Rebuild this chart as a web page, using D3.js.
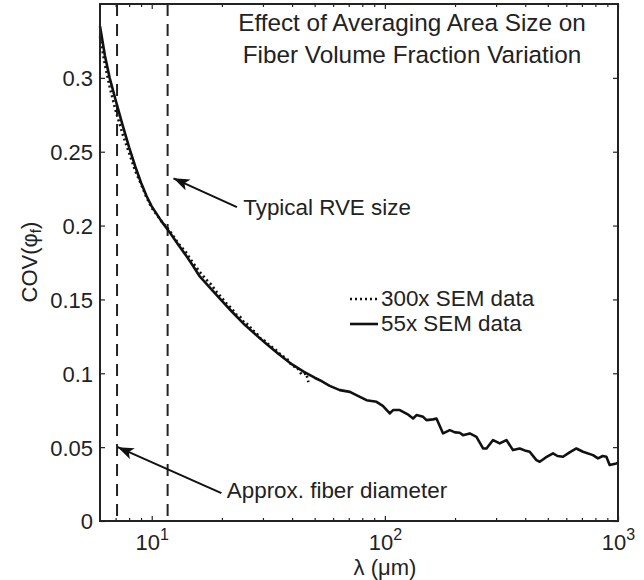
<!DOCTYPE html>
<html>
<head>
<meta charset="utf-8">
<script src="https://cdn.jsdelivr.net/npm/d3@7"></script>
<style>
  body { margin: 0; background: #fff; }
  text { font-family: "Liberation Sans", Arial, sans-serif; fill: #222; }
</style>
</head>
<body>
<svg id="chart"></svg>
<script>
var width = 644, height = 580;
var margin = {top: 4, right: 26, bottom: 59, left: 100};
var plotW = width - margin.left - margin.right,
    plotH = height - margin.top - margin.bottom;

// 55x SEM data (solid line)
var lam55 = [6, 6.3, 6.6, 7, 7.5, 8, 8.5, 9, 9.5, 10,
    11, 12, 13, 14, 15, 16, 18, 20, 22, 25,
    28, 31, 35, 40, 45, 50, 52.6, 58, 64.1, 70.8,
    77, 83.4, 92.1, 98, 105, 108.5, 115.9, 119.7, 126, 132.2,
    136.7, 145.9, 150.8, 161, 166.5, 177.7, 189.8, 200, 209.5, 216.4,
    231.3, 247.1, 263.8, 272.8, 291.1, 311, 332.2, 354.5, 378.7, 398,
    418, 446.7, 461.6, 490, 526.3, 550, 580.9, 620, 663, 707.6,
    781, 820.7, 860, 891.5, 920.8, 984, 1000];
var cov55 = [0.335, 0.315, 0.300, 0.285, 0.268, 0.253, 0.240, 0.229, 0.220, 0.213,
    0.203, 0.195, 0.187, 0.180, 0.173, 0.166, 0.157, 0.149, 0.142, 0.133,
    0.126, 0.120, 0.113, 0.106, 0.101, 0.097, 0.0953, 0.0915, 0.0886, 0.0874,
    0.0845, 0.0818, 0.0807, 0.0780, 0.0728, 0.0751, 0.0751, 0.0739, 0.0720, 0.0694,
    0.0717, 0.0705, 0.0683, 0.0688, 0.0694, 0.0593, 0.0615, 0.0600, 0.0597, 0.0581,
    0.0593, 0.0570, 0.0491, 0.0491, 0.0548, 0.0525, 0.0548, 0.0480, 0.0491, 0.0478,
    0.0469, 0.0412, 0.0401, 0.0430, 0.0458, 0.0440, 0.0435, 0.0465, 0.0491, 0.0469,
    0.0446, 0.0424, 0.0440, 0.0435, 0.0379, 0.0390, 0.0395];

// 300x SEM data (dotted line)
var lam300 = [6, 6.3, 6.6, 7, 7.5, 8, 8.5, 9, 9.5, 10,
    11, 12, 13, 14, 15, 16, 17, 18, 19, 20,
    21, 22, 23, 24, 25, 26, 27, 28, 29, 30,
    32, 34, 36, 38, 40, 42, 44, 46, 47];
var cov300 = [0.328, 0.309, 0.294, 0.278, 0.262, 0.249, 0.237, 0.228, 0.219, 0.212,
    0.203, 0.196, 0.188, 0.182, 0.175, 0.169, 0.164, 0.160, 0.155, 0.151,
    0.147, 0.144, 0.140, 0.138, 0.134, 0.133, 0.129, 0.128, 0.124, 0.123,
    0.119, 0.116, 0.112, 0.110, 0.105, 0.104, 0.099, 0.100, 0.094];

var xMajor = [10, 100, 1000];
var xMinor = [7, 8, 9, 20, 30, 40, 50, 60, 70, 80, 90, 200, 300, 400, 500, 600, 700, 800, 900];
var yTicks = [0, 0.05, 0.1, 0.15, 0.2, 0.25, 0.3];
var yTickLabels = ["0", "0.05", "0.1", "0.15", "0.2", "0.25", "0.3"];

// dashed reference lines: approx. fiber diameter, typical RVE size
var refLines = [7.1, 11.7];

var titleLines = ["Effect of Averaging Area Size on", "Fiber Volume Fraction Variation"];
var seriesNames = ["300x SEM data", "55x SEM data"];

var svg = d3.select("#chart")
    .attr("width", width)
    .attr("height", height);

var x = d3.scaleLog().domain([6, 1000]).range([margin.left, margin.left + plotW]);
var y = d3.scaleLinear().domain([0, 0.35]).range([margin.top + plotH, margin.top]);

var line = d3.line()
    .x(d => x(d[0]))
    .y(d => y(d[1]));

// dashed vertical lines
svg.selectAll(".refline")
    .data(refLines)
    .enter().append("line")
    .attr("class", "refline")
    .attr("x1", d => x(d)).attr("x2", d => x(d))
    .attr("y1", y(0.35)).attr("y2", y(0))
    .attr("stroke", "#222")
    .attr("stroke-width", 2)
    .attr("stroke-dasharray", "12,8");

// curves
svg.append("path")
    .datum(lam55.map((d, i) => [d, cov55[i]]))
    .attr("d", line)
    .attr("fill", "none")
    .attr("stroke", "#111")
    .attr("stroke-width", 2.6)
    .attr("stroke-linejoin", "round");

svg.append("path")
    .datum(lam300.map((d, i) => [d, cov300[i]]))
    .attr("d", line)
    .attr("fill", "none")
    .attr("stroke", "#111")
    .attr("stroke-width", 2.6)
    .attr("stroke-dasharray", "2,3");

// axes: inward ticks, box on
var xTicks = xMajor.concat(xMinor);
var xAxis = d3.axisBottom(x)
    .tickValues(xTicks)
    .tickSizeInner(-5)
    .tickSizeOuter(0)
    .tickFormat(d => xMajor.indexOf(d) >= 0 ? "10" : "");

var gx = svg.append("g")
    .attr("transform", `translate(0,${margin.top + plotH})`)
    .call(xAxis);
gx.select(".domain").remove();
gx.selectAll(".tick line")
    .attr("stroke", "#222")
    .attr("stroke-width", 1.2)
    .attr("y2", d => xMajor.indexOf(d) >= 0 ? -5 : -3);
gx.selectAll(".tick text")
    .attr("y", 29)
    .attr("dy", null)
    .attr("font-size", 22)
    .each(function(d) {
        if (xMajor.indexOf(d) < 0) return;
        d3.select(this).append("tspan")
            .attr("dy", -10)
            .attr("font-size", 16)
            .text(Math.round(Math.log10(d)));
    });

var gxTop = svg.append("g")
    .attr("transform", `translate(0,${margin.top})`)
    .call(d3.axisTop(x).tickValues(xTicks).tickSizeInner(-5).tickSizeOuter(0).tickFormat(""));
gxTop.select(".domain").remove();
gxTop.selectAll(".tick line")
    .attr("stroke", "#222")
    .attr("stroke-width", 1.2)
    .attr("y2", d => xMajor.indexOf(d) >= 0 ? 5 : 3);

var gy = svg.append("g")
    .attr("transform", `translate(${margin.left},0)`)
    .call(d3.axisLeft(y).tickValues(yTicks).tickSizeInner(-5).tickSizeOuter(0)
        .tickFormat((d, i) => yTickLabels[i]));
gy.select(".domain").remove();
gy.selectAll(".tick line").attr("stroke", "#222").attr("stroke-width", 1.2);
gy.selectAll(".tick text")
    .attr("x", -7)
    .attr("dy", "0.36em")
    .attr("font-size", 22);

var gyRight = svg.append("g")
    .attr("transform", `translate(${margin.left + plotW},0)`)
    .call(d3.axisRight(y).tickValues(yTicks).tickSizeInner(-5).tickSizeOuter(0).tickFormat(""));
gyRight.select(".domain").remove();
gyRight.selectAll(".tick line").attr("stroke", "#222").attr("stroke-width", 1.2);

svg.append("rect")
    .attr("x", margin.left).attr("y", margin.top)
    .attr("width", plotW).attr("height", plotH)
    .attr("fill", "none")
    .attr("stroke", "#222")
    .attr("stroke-width", 2);

// axis labels
svg.append("text")
    .attr("x", 385).attr("y", 575)
    .attr("text-anchor", "middle")
    .attr("font-size", 22)
    .text("\u03bb (\u03bcm)");

var yLab = svg.append("text")
    .attr("transform", "translate(37,262) rotate(-90)")
    .attr("text-anchor", "middle")
    .attr("font-size", 22);
yLab.append("tspan").text("COV(\u03c6");
yLab.append("tspan").attr("font-size", 15).attr("dy", 4).text("f");
yLab.append("tspan").attr("dy", -4).text(")");

// title
svg.selectAll(".title")
    .data(titleLines)
    .enter().append("text")
    .attr("class", "title")
    .attr("x", 412)
    .attr("y", (d, i) => 31 + i * 32)
    .attr("text-anchor", "middle")
    .attr("font-size", 24.3)
    .text(d => d);

// legend
var legend = svg.append("g").attr("transform", "translate(350,299)");
var legendItem = legend.selectAll("g")
    .data(seriesNames)
    .enter().append("g")
    .attr("transform", (d, i) => `translate(0,${i * 25})`);
legendItem.append("line")
    .attr("x1", 0).attr("x2", 28)
    .attr("stroke", "#111")
    .attr("stroke-width", 2.6)
    .attr("stroke-dasharray", (d, i) => i === 0 ? "2,3" : null);
legendItem.append("text")
    .attr("x", 31).attr("y", 7)
    .attr("font-size", 22.4)
    .text(d => d);

// annotations with arrows
svg.append("defs").append("marker")
    .attr("id", "arrow")
    .attr("markerUnits", "userSpaceOnUse")
    .attr("viewBox", "0 0 16 12")
    .attr("refX", 16).attr("refY", 6)
    .attr("markerWidth", 16).attr("markerHeight", 12)
    .attr("orient", "auto")
    .append("path")
    .attr("d", "M0,0 L16,6 L0,12 L4,6 Z")
    .attr("fill", "#111");

var annotations = [
    {label: "Typical RVE size", tip: [12.4, 0.232], tail: [23.2, 0.2125], text: [24.7, 0.2069]},
    {label: "Approx. fiber diameter", tip: [7.15, 0.05], tail: [19.9, 0.0189], text: [21.0, 0.0156]}
];

annotations.forEach(function(a) {
    svg.append("line")
        .attr("x1", x(a.tail[0])).attr("y1", y(a.tail[1]))
        .attr("x2", x(a.tip[0])).attr("y2", y(a.tip[1]))
        .attr("stroke", "#111")
        .attr("stroke-width", 2)
        .attr("marker-end", "url(#arrow)");
    svg.append("text")
        .attr("x", x(a.text[0])).attr("y", y(a.text[1]))
        .attr("font-size", 22.4)
        .text(a.label);
});
</script>
</body>
</html>
